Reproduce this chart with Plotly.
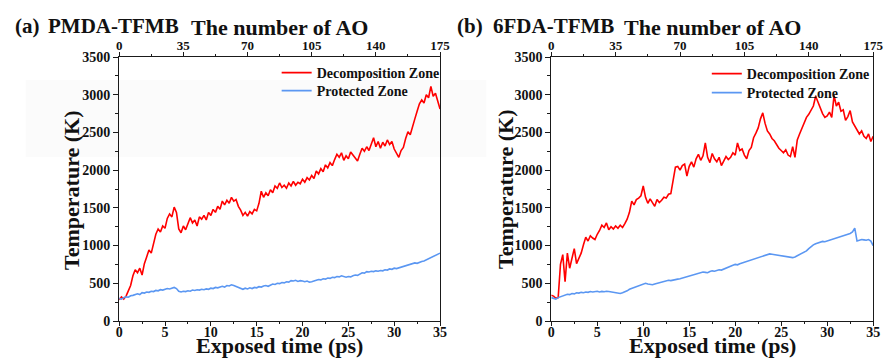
import plotly.graph_objects as go

# ---------------- data ----------------
time_ps = [i * 0.25 for i in range(141)]  # 0 .. 35 ps

pmda_decomp = [
    280, 320, 290, 330,
    400, 470, 600, 680,
    640, 700, 610, 760,
    850, 940, 900, 1040,
    1150, 1220, 1180, 1260,
    1230, 1360, 1420, 1380,
    1510, 1440, 1220, 1170,
    1260, 1210, 1290, 1370,
    1300, 1340, 1260, 1380,
    1350, 1400, 1340, 1440,
    1400, 1480, 1440, 1520,
    1480, 1590, 1540, 1600,
    1560, 1640, 1590, 1610,
    1520, 1470, 1400, 1440,
    1390, 1450, 1420, 1480,
    1460, 1560, 1720, 1640,
    1700, 1660, 1740, 1700,
    1790, 1760, 1830, 1770,
    1800, 1760, 1830, 1790,
    1850, 1800, 1840, 1820,
    1880, 1840, 1900, 1870,
    1930, 1890, 1990, 1950,
    2020, 1980, 2070, 2030,
    2100, 2060, 2140, 2210,
    2170, 2230, 2130, 2190,
    2150, 2240, 2200, 2160,
    2120, 2210, 2290, 2250,
    2310, 2260, 2340, 2430,
    2310, 2380, 2290, 2370,
    2320, 2400, 2340, 2380,
    2280, 2230, 2170, 2260,
    2300, 2420, 2510, 2470,
    2560, 2680, 2780, 2880,
    2930, 2890, 3000, 2960,
    3110, 2980, 3020, 2930,
    2810,
]

pmda_protect = [
    300, 290, 310, 320,
    315, 335, 340, 355,
    360, 350, 375, 370,
    385, 380, 395, 390,
    405, 400, 415, 410,
    420, 430, 425, 440,
    445, 430, 395, 385,
    395, 390, 400, 395,
    410, 405, 415, 410,
    420, 415, 425, 420,
    435, 430, 445, 440,
    455, 460, 450, 470,
    465, 480, 470, 460,
    450, 430, 420, 435,
    425, 440, 430, 445,
    440, 455, 450, 465,
    470, 460, 480, 490,
    485, 500, 495, 510,
    505, 520, 515, 535,
    530, 540, 525, 535,
    530, 520, 530, 515,
    520, 535, 540, 550,
    545, 560, 555, 570,
    565, 580, 575, 590,
    585, 600, 590, 580,
    590, 585, 600, 610,
    605, 625, 640, 635,
    655, 650, 660, 655,
    665, 660, 670, 665,
    680, 675, 690, 685,
    700, 695, 705, 715,
    730, 740, 745, 755,
    760, 770, 765, 780,
    790, 795, 810, 830,
    840, 855, 870, 880,
    900,
]

fda_decomp = [
    340, 330, 300, 310,
    750, 880, 520, 900,
    700, 850, 960, 760,
    840, 900, 1010, 1110,
    1060, 1130, 1100, 1080,
    1150, 1200, 1270, 1240,
    1300, 1210, 1250, 1220,
    1260, 1230, 1270, 1240,
    1290, 1350, 1440, 1590,
    1540, 1610, 1630, 1660,
    1790, 1640, 1560, 1620,
    1570, 1520, 1610, 1570,
    1600, 1640, 1630, 1680,
    1690, 1850, 2040, 2050,
    2000, 2060, 2080, 1920,
    2050, 2110, 2040, 2150,
    2210, 2130, 2190, 2360,
    2170, 2100, 2220, 2150,
    2110, 2170, 2060, 2120,
    2180, 2140, 2170, 2230,
    2200, 2360, 2260, 2280,
    2200, 2150, 2260, 2300,
    2430, 2490, 2560, 2680,
    2760, 2620, 2520, 2480,
    2420, 2390, 2330, 2290,
    2260, 2230, 2270, 2200,
    2180, 2310, 2170, 2400,
    2480, 2560, 2620, 2700,
    2740, 2800, 2850, 2980,
    2900, 2820, 2750, 2700,
    2720, 2770, 2700, 2990,
    2850, 2900, 2780, 2800,
    2660, 2710, 2790, 2640,
    2590, 2540, 2480, 2520,
    2450, 2420, 2480, 2380,
    2450,
]

fda_protect = [
    310, 295, 290, 310,
    320, 330, 345, 355,
    350, 365, 360, 375,
    370, 380, 375, 385,
    380, 390, 385, 390,
    395, 385, 392, 388,
    395, 390, 385, 380,
    375, 370, 365, 375,
    385, 400, 420, 430,
    445, 455, 465, 480,
    490, 500, 490, 485,
    480, 490, 500, 510,
    520, 525, 530, 540,
    535, 545, 550, 555,
    560, 570, 575, 590,
    600, 610, 615, 625,
    635, 640, 650, 645,
    640, 655, 665, 660,
    670, 680, 675, 690,
    700, 710, 725, 740,
    750, 745, 760, 770,
    780, 790, 795, 805,
    815, 820, 830, 840,
    850, 860, 875, 890,
    885, 880, 880, 875,
    870, 860, 855, 850,
    845, 840, 850, 865,
    880, 895, 905, 930,
    960, 990, 1010, 1025,
    1035, 1045, 1055, 1050,
    1060, 1070, 1075, 1085,
    1090, 1100, 1115, 1120,
    1130, 1145, 1160, 1180,
    1230, 1060, 1070, 1080,
    1075, 1070, 1080, 1060,
    1000,
]

x_ticks = [0, 5, 10, 15, 20, 25, 30, 35]
y_ticks = [0, 500, 1000, 1500, 2000, 2500, 3000, 3500]
ao_ticks = [0, 35, 70, 105, 140, 175]

panel_labels = ["(a)", "(b)"]
panel_names = ["PMDA-TFMB", "6FDA-TFMB"]
series_names = ["Decomposition Zone", "Protected Zone"]

# ---------------- styles ----------------
W, H = 892, 358
T, B = 57, 37
PH = H - T - B
FONT = "Liberation Serif"
RED = "#ff0000"
BLUE = "#5b97f2"
AX = "#1a1a1a"
TXT = "#111111"

def px(x):
    return x / W

def py(y):
    return (H - B - y) / PH

def bfont(size):
    return dict(family=FONT, size=size, color=TXT, weight="bold")

fig = go.Figure()

legend_pos = {  # (left px of legend box, top px of legend box)
    "legend": (277, 57), "legend2": (277, 75),
    "legend3": (714, 58), "legend4": (714, 77),
}
panels = [(pmda_decomp, pmda_protect), (fda_decomp, fda_protect)]
for i, (dec, pro) in enumerate(panels):
    xa = "x" if i == 0 else "x2"
    ya = "y" if i == 0 else "y2"
    lg_a = "legend" if i == 0 else "legend3"
    lg_b = "legend2" if i == 0 else "legend4"
    fig.add_trace(go.Scatter(x=time_ps, y=dec, mode="lines", name=series_names[0],
                             line=dict(color=RED, width=1.6), xaxis=xa, yaxis=ya, legend=lg_a))
    fig.add_trace(go.Scatter(x=time_ps, y=pro, mode="lines", name=series_names[1],
                             line=dict(color=BLUE, width=1.6), xaxis=xa, yaxis=ya, legend=lg_b))

# empty traces so the top "number of AO" axes get drawn
for xa in ["x3", "x4"]:
    fig.add_trace(go.Scatter(x=[ao_ticks[0], ao_ticks[-1]], y=[None, None], mode="lines",
                             xaxis=xa, yaxis="y" if xa == "x3" else "y2",
                             showlegend=False, hoverinfo="skip"))

common_x = dict(range=[0, 35], tickvals=x_ticks, ticks="outside", ticklen=4, tickwidth=1,
                tickcolor=AX, showline=True, linecolor=AX, linewidth=1, mirror=True,
                showgrid=False, zeroline=False, tickfont=bfont(14), ticklabelstandoff=-6,
                minor=dict(dtick=2.5, ticks="outside", ticklen=2, tickcolor=AX, showgrid=False))
common_y = dict(range=[0, 3500], tickvals=y_ticks, ticks="outside", ticklen=5, tickwidth=1,
                tickcolor=AX, showline=True, linecolor=AX, linewidth=1, mirror=True,
                showgrid=False, zeroline=False, tickfont=bfont(14),
                minor=dict(dtick=250, ticks="outside", ticklen=3, tickcolor=AX, showgrid=False))
common_top = dict(range=[0, 175], tickvals=ao_ticks, ticks="outside", ticklen=4, tickwidth=1,
                  tickcolor=AX, showline=True, linecolor=AX, linewidth=1, side="top",
                  showgrid=False, zeroline=False, tickfont=bfont(13), ticklabelstandoff=-3,
                  minor=dict(dtick=17.5, ticks="outside", ticklen=2, tickcolor=AX, showgrid=False))

d1 = [px(117), px(443)]
d2 = [px(556), px(883)]

legends = {}
for name, (lx, ly) in legend_pos.items():
    legends[name] = dict(x=px(lx), y=py(ly), xanchor="left", yanchor="top",
                         bgcolor="rgba(0,0,0,0)", borderwidth=0, font=bfont(14))

fig.update_layout(
    width=W, height=H,
    margin=dict(l=0, r=0, t=T, b=B),
    paper_bgcolor="white", plot_bgcolor="rgba(0,0,0,0)",
    font=bfont(14),
    xaxis=dict(domain=d1, anchor="y", **common_x),
    yaxis=dict(domain=[0, 1], anchor="x", **common_y),
    xaxis2=dict(domain=d2, anchor="y2", **common_x),
    yaxis2=dict(domain=[0, 1], anchor="x2", **common_y),
    xaxis3=dict(overlaying="x", anchor="y", **common_top),
    xaxis4=dict(overlaying="x2", anchor="y2", **common_top),
    showlegend=True,
    **legends,
)

# faint scan background band in the original
fig.add_shape(type="rect", xref="paper", yref="paper", x0=px(22), x1=px(490), y0=py(157), y1=py(80),
              fillcolor="#fbfbfb", line=dict(width=0), layer="below")

ann = []
for i, cx in enumerate([280, 719.5]):
    ann.append(dict(text=panel_labels[i], x=px([9, 458][i]), y=py(26), xref="paper", yref="paper",
                    xanchor="left", yanchor="middle", showarrow=False, font=bfont(21)))
    ann.append(dict(text=panel_names[i], x=px([43, 495][i]), y=py(26), xref="paper", yref="paper",
                    xanchor="left", yanchor="middle", showarrow=False, font=bfont(21)))
    ann.append(dict(text="The number of AO", x=px(cx), y=py(28), xref="paper", yref="paper",
                    xanchor="center", yanchor="middle", showarrow=False, font=bfont(22)))
    ann.append(dict(text="Exposed time (ps)", x=px(cx), y=py(345), xref="paper", yref="paper",
                    xanchor="center", yanchor="middle", showarrow=False, font=bfont(22)))
    ann.append(dict(text="Temperature (K)", x=px([68, 509][i]), y=py(190), xref="paper", yref="paper",
                    xanchor="center", yanchor="middle", showarrow=False, textangle=-90,
                    font=bfont(22)))
fig.update_layout(annotations=ann)

fig.write_html("out.html")
